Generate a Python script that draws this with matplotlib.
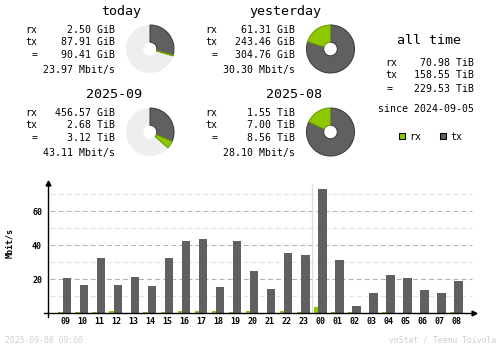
import matplotlib
matplotlib.use('Agg')
import matplotlib.pyplot as plt
from matplotlib.patches import Wedge, Rectangle

plt.rcParams['font.family'] = ['DejaVu Sans Mono', 'DejaVu Sans']
plt.rcParams['lines.scale_dashes'] = False

RX, RX_EDGE = '#8dc800', '#6a9800'
TX, TX_EDGE = '#606060', '#3c3c3c'
FAINT = '#d0d0d0'

# hourly averages (Mbit/s), last 24 hours
hours = ['09', '10', '11', '12', '13', '14', '15', '16', '17', '18', '19', '20',
         '21', '22', '23', '00', '01', '02', '03', '04', '05', '06', '07', '08']
rx_rate = [0.6, 0.6, 0.6, 1.2, 0.0, 0.6, 0.6, 1.2, 1.2, 1.2, 0.6, 1.2,
           0.0, 1.4, 0.6, 3.7, 0.6, 0.6, 0.0, 0.6, 0.0, 0.0, 0.0, 0.6]
tx_rate = [20.8, 16.7, 32.5, 16.7, 21.4, 16.1, 32.5, 42.7, 43.7, 15.5, 42.7, 24.9,
           14.3, 35.5, 34.3, 73.1, 31.4, 4.3, 12.0, 22.5, 20.8, 13.7, 12.0, 19.0]

# summary blocks
periods = ['today', 'yesterday', '2025-09', '2025-08']
rx_vals = [2.50, 61.31, 456.57, 1.55]
rx_units = ['GiB', 'GiB', 'GiB', 'TiB']
tx_vals = [87.91, 243.46, 2.68, 7.00]
tx_units = ['GiB', 'GiB', 'TiB', 'TiB']
tot_vals = [90.41, 304.76, 3.12, 8.56]
tot_units = ['GiB', 'GiB', 'TiB', 'TiB']
avg_rate = [23.97, 30.30, 43.11, 28.10]

alltime_rx = '70.98 TiB'
alltime_tx = '158.55 TiB'
alltime_tot = '229.53 TiB'
since = '2024-09-05'
stamp = '2025-09-08 09:00'


def gib(v, unit):
    return v * 1024 if unit == 'TiB' else v


fig = plt.figure(figsize=(5, 3.48), dpi=100)
ov = fig.add_axes([0, 0, 1, 1])
ov.set_xlim(0, 500)
ov.set_ylim(348, 0)
ov.axis('off')

txt = dict(fontsize=7.15, color='black', va='baseline')


def pie(cx, cy, rx, tx, scale):
    r, hole = 24, 6.8
    total = rx + tx
    if total < scale:
        ov.add_patch(Wedge((cx, cy), r, 0, 360, width=r - hole,
                           facecolor='#eeeeee', edgecolor='none'))
    a_tx = 360 * tx / scale
    a_rx = 360 * rx / scale
    # y axis is flipped, so increasing angle runs clockwise from 12 o'clock
    ov.add_patch(Wedge((cx, cy), r, -90, -90 + a_tx, width=r - hole,
                       facecolor=TX, edgecolor=TX_EDGE, lw=0.75))
    ov.add_patch(Wedge((cx, cy), r, -90 + a_tx, -90 + a_tx + a_rx, width=r - hole,
                       facecolor=RX, edgecolor=RX_EDGE, lw=0.75))


for i, name in enumerate(periods):
    dx = 180 * (i % 2)
    dy = 83 * (i // 2)
    ov.text(141.7 + dx, 15.5 + dy, name, fontsize=9.6, ha='right', va='baseline')
    ov.text(25 + dx, 32.7 + dy, 'rx', ha='left', **txt)
    ov.text(25 + dx, 44.7 + dy, 'tx', ha='left', **txt)
    ov.text(34.5 + dx, 58.3 + dy, '=', ha='center', **txt)
    ov.text(115 + dx, 32.7 + dy, f'{rx_vals[i]:.2f} {rx_units[i]}', ha='right', **txt)
    ov.text(115 + dx, 44.7 + dy, f'{tx_vals[i]:.2f} {tx_units[i]}', ha='right', **txt)
    ov.text(115 + dx, 58.3 + dy, f'{tot_vals[i]:.2f} {tot_units[i]}', ha='right', **txt)
    ov.text(115 + dx, 72.7 + dy, f'{avg_rate[i]:.2f} Mbit/s', ha='right', **txt)

# pies: current period is scaled against the previous one
for i in range(0, 4, 2):
    sums = [gib(rx_vals[j], rx_units[j]) + gib(tx_vals[j], tx_units[j]) for j in (i, i + 1)]
    scale = max(sums)
    for k, j in enumerate((i, i + 1)):
        pie(150 + 180.5 * k, 49 + 83 * (i // 2),
            gib(rx_vals[j], rx_units[j]), gib(tx_vals[j], tx_units[j]), scale)

# all time block
ov.text(428.8, 44.3, 'all time', fontsize=9.6, ha='center', va='baseline')
ov.text(385, 65.7, 'rx', ha='left', **txt)
ov.text(385, 77.7, 'tx', ha='left', **txt)
ov.text(390, 91.7, '=', ha='center', **txt)
ov.text(474.3, 65.7, alltime_rx, ha='right', **txt)
ov.text(474.3, 77.7, alltime_tx, ha='right', **txt)
ov.text(474.3, 91.7, alltime_tot, ha='right', **txt)
ov.text(474.3, 111.7, f'since {since}', ha='right', **txt)

# legend
for x0, col, edge, lab in [(398.5, RX, 'black', 'rx'), (440, TX, 'black', 'tx')]:
    ov.add_patch(Rectangle((x0, 133.3), 6, 6, facecolor=col, edgecolor=edge, lw=0.75))
    ov.text(x0 + 10.5, 139.8, lab, ha='left', **txt)

# footer
ov.text(5, 342.7, stamp, fontsize=5.9, color=FAINT, ha='left', va='baseline')
ov.text(496.7, 342.7, 'vnStat / Teemu Toivola', fontsize=5.9, color=FAINT,
        ha='right', va='baseline')

# hourly bar chart
ax = fig.add_axes([48 / 500, (348 - 313.3) / 348, (476.7 - 48) / 500, (313.3 - 181.7) / 348])
ax.patch.set_alpha(0)
ax.set_xlim(-1.0, 24.17)
ax.set_ylim(0, 77.4)
for s in ax.spines.values():
    s.set_visible(False)

x = list(range(len(hours)))
for lvl in (10, 20, 30, 40, 50, 60, 70):
    ax.axhline(lvl, xmin=0.005, xmax=0.988, color='#b0b0b0' if lvl % 20 == 0 else '#e2e2e2',
               lw=0.75, dashes=(3.6, 2.2), zorder=0)
ax.axvline(14.5, ymin=0, ymax=76.1 / 77.4, color='#dcdcdc', lw=0.9, zorder=0)

ax.bar([i - 0.264 for i in x], rx_rate, width=0.26, color=RX, zorder=2)
ax.bar([i + 0.109 for i in x], tx_rate, width=0.49, color=TX, zorder=2)

# axis lines with arrow heads
ax.plot([-1.23, 24.0], [0, 0], color='black', lw=1.0, clip_on=False, zorder=3)
ax.plot([-1.0, -1.0], [-2.0, 76.5], color='black', lw=1.0, clip_on=False, zorder=3)
ax.plot([24.0], [0], marker='>', ms=3.5, color='black', clip_on=False, zorder=3)
ax.plot([-1.0], [76.6], marker='^', ms=3.5, color='black', clip_on=False, zorder=3)

ax.set_xticks(x)
ax.set_xticklabels(hours, fontsize=6, fontweight='bold')
ax.set_yticks([20, 40, 60])
ax.set_yticklabels(['20', '40', '60'], fontsize=6, fontweight='bold')
ax.tick_params(length=0)
ax.tick_params(axis='x', pad=3)
ax.tick_params(axis='y', pad=4.3)
ax.set_ylabel('Mbit/s', fontsize=6, fontweight='bold')
ax.yaxis.set_label_coords(-0.0786, 0.534)

fig.savefig('out.png', dpi=100)
